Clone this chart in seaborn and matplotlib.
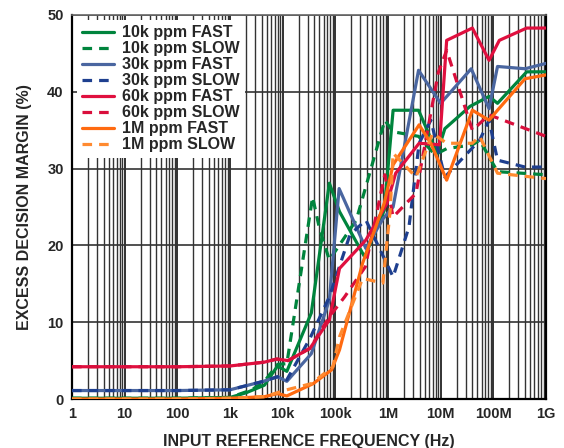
import numpy as np
import pandas as pd
import matplotlib
matplotlib.use("Agg")
import matplotlib.pyplot as plt
from matplotlib.ticker import LogLocator, FixedLocator, FixedFormatter, NullFormatter
import seaborn as sns

# ---------------- data ----------------
f_10k_fast = [1, 10, 100, 1e3, 2e3, 4.5e3, 8e3, 12e3, 35e3, 77e3, 120e3, 360e3, 850e3, 1.25e6, 3.8e6, 8.6e6, 12e6, 36e6, 83e6, 120e6, 430e6, 1e9]
v_10k_fast = [0.1, 0.1, 0.1, 0.2, 0.8, 1.8, 4.3, 3.6, 11.2, 28.1, 24.4, 18.5, 24.6, 37.6, 37.6, 32.0, 35.2, 38.1, 39.4, 38.5, 42.6, 42.6]

f_10k_slow = [1, 10, 100, 1e3, 2.6e3, 4.5e3, 8e3, 12e3, 37e3, 50e3, 77e3, 250e3, 870e3, 1.25e6, 3.8e6, 7.8e6, 13e6, 40e6, 55e6, 120e6, 1e9]
v_10k_slow = [0.1, 0.1, 0.1, 0.2, 1.2, 2.3, 4.5, 4.6, 26.3, 22.2, 18.1, 23.3, 36.3, 34.8, 34.2, 31.8, 32.6, 33.1, 33.7, 29.6, 29.2]

f_30k_fast = [1, 10, 100, 1e3, 4.3e3, 8e3, 12e3, 35e3, 77e3, 118e3, 380e3, 810e3, 1.25e6, 3.8e6, 10e6, 38e6, 83e6, 120e6, 400e6, 1e9]
v_30k_fast = [1.1, 1.1, 1.1, 1.2, 2.3, 2.9, 2.3, 5.9, 12.9, 27.4, 19.6, 23.5, 25.0, 42.8, 38.5, 43.0, 37.8, 43.3, 43.0, 43.7]

f_30k_slow = [1, 10, 100, 1e3, 4.3e3, 8e3, 12e3, 33e3, 77e3, 190e3, 380e3, 1.25e6, 2.5e6, 3.9e6, 6.5e6, 12e6, 55e6, 83e6, 120e6, 400e6, 1e9]
v_30k_slow = [1.1, 1.1, 1.1, 1.2, 2.3, 2.9, 2.5, 7.9, 13.3, 21.4, 23.3, 15.9, 22.4, 33.3, 36.3, 28.9, 33.7, 36.3, 31.1, 30.2, 30.2]

f_60k_fast = [1, 10, 100, 1e3, 4.5e3, 7.7e3, 12.7e3, 33e3, 77e3, 120e3, 380e3, 960e3, 1.4e6, 3.9e6, 9.5e6, 13e6, 40e6, 83e6, 130e6, 430e6, 1e9]
v_60k_fast = [4.2, 4.2, 4.2, 4.3, 4.8, 5.2, 5.0, 6.6, 10.3, 17.0, 20.7, 25.5, 29.4, 33.3, 33.1, 46.7, 48.3, 44.1, 46.7, 48.3, 48.3]

f_60k_slow = [1, 10, 100, 1e3, 4.5e3, 7.7e3, 12.7e3, 33e3, 77e3, 150e3, 370e3, 870e3, 1.25e6, 3.4e6, 9e6, 13e6, 40e6, 83e6, 1e9]
v_60k_slow = [4.2, 4.2, 4.2, 4.3, 4.8, 5.2, 5.0, 6.6, 10.7, 13.3, 17.2, 29.2, 23.7, 26.8, 42.5, 45.4, 35.0, 37.0, 34.2]

f_1m_fast = [1, 10, 100, 1e3, 4.5e3, 8e3, 12e3, 38e3, 85e3, 120e3, 330e3, 850e3, 1.25e6, 3.9e6, 6.5e6, 13e6, 40e6, 83e6, 120e6, 400e6, 1e9]
v_1m_fast = [0.0, 0.0, 0.0, 0.1, 0.3, 0.7, 0.4, 2.0, 3.8, 6.4, 17.7, 25.5, 30.5, 35.7, 33.3, 28.5, 37.6, 36.3, 37.6, 41.7, 42.2]

f_1m_slow = [1, 10, 100, 1e3, 4.5e3, 12e3, 35e3, 90e3, 120e3, 330e3, 800e3, 1.1e6, 1.25e6, 3.4e6, 7e6, 13e6, 40e6, 55e6, 120e6, 1e9]
v_1m_slow = [0.0, 0.0, 0.0, 0.1, 0.3, 1.2, 2.0, 4.2, 8.1, 15.7, 15.1, 24.6, 32.0, 28.9, 34.6, 33.3, 33.3, 34.2, 29.4, 28.7]

series_labels = ["10k ppm FAST", "10k ppm SLOW", "30k ppm FAST", "30k ppm SLOW",
                 "60k ppm FAST", "60k ppm SLOW", "1M ppm FAST", "1M ppm SLOW"]
series_data = [(f_10k_fast, v_10k_fast), (f_10k_slow, v_10k_slow),
               (f_30k_fast, v_30k_fast), (f_30k_slow, v_30k_slow),
               (f_60k_fast, v_60k_fast), (f_60k_slow, v_60k_slow),
               (f_1m_fast, v_1m_fast), (f_1m_slow, v_1m_slow)]
series_colors = ["#00843D", "#00843D", "#4A66A0", "#1E3F8F",
                 "#E0103F", "#D90F3C", "#FF6A10", "#FF8A30"]
series_dashed = [False, True, False, True, False, True, False, True]

x_tick_values = [1, 10, 100, 1e3, 1e4, 1e5, 1e6, 1e7, 1e8, 1e9]
x_tick_labels = ["1", "10", "100", "1k", "10k", "100k", "1M", "10M", "100M", "1G"]
y_tick_values = [0, 10, 20, 30, 40, 50]

frames = []
for lab, (f, v) in zip(series_labels, series_data):
    frames.append(pd.DataFrame({"freq": f, "margin": v, "series": lab}))
df = pd.concat(frames, ignore_index=True)

# ---------------- plot ----------------
sns.set_theme(style="white")
plt.rcParams["font.family"] = ["Liberation Sans", "DejaVu Sans"]
plt.rcParams["font.weight"] = "bold"

fig = plt.figure(figsize=(5.64, 4.48), dpi=100)
ax = fig.add_axes([72 / 564, 1 - 399 / 448, (546 - 72) / 564, (399 - 15) / 448])

for lab, col, dashed in zip(series_labels, series_colors, series_dashed):
    sub = df[df["series"] == lab]
    sns.lineplot(data=sub, x="freq", y="margin", ax=ax, color=col, lw=2.3,
                 linestyle=(0, (3.0, 2.2)) if dashed else "-",
                 label=lab, sort=False, estimator=None, zorder=3)

ax.set_xscale("log")
ax.set_xlim(1, 1e9)
ax.set_ylim(0, 50)
ax.xaxis.set_major_locator(FixedLocator(x_tick_values))
ax.xaxis.set_major_formatter(FixedFormatter(x_tick_labels))
ax.xaxis.set_minor_locator(LogLocator(base=10, subs=np.arange(2, 10), numticks=20))
ax.xaxis.set_minor_formatter(NullFormatter())
ax.set_yticks(y_tick_values)

ax.grid(True, which="major", axis="x", color="#222222", lw=1.3, zorder=1)
ax.grid(True, which="minor", axis="x", color="#333333", lw=1.0, zorder=1)
ax.grid(True, which="major", axis="y", color="#333333", lw=1.2, zorder=1)
ax.set_axisbelow(True)

ax.tick_params(axis="both", which="both", direction="in", length=0, labelsize=10.5, pad=6)
for lbl in ax.get_xticklabels() + ax.get_yticklabels():
    lbl.set_fontweight("bold")

for side in ["left", "bottom", "right"]:
    ax.spines[side].set_color("black")
    ax.spines[side].set_linewidth(1.6)
ax.spines["top"].set_color("#666666")
ax.spines["top"].set_linewidth(1.2)

ax.set_xlabel("INPUT REFERENCE FREQUENCY (Hz)", fontsize=11.5, fontweight="bold", labelpad=9)
ax.set_ylabel("EXCESS DECISION MARGIN (%)", fontsize=11.5, fontweight="bold", labelpad=11)

leg = ax.legend(loc="upper left", bbox_to_anchor=(0.0, 1.0), frameon=True,
                framealpha=1, facecolor="white", edgecolor="none", fancybox=False,
                prop={"weight": "bold", "size": 11.5}, handlelength=2.0,
                handletextpad=0.45, labelspacing=0.06, borderaxespad=0.3,
                borderpad=0.35)
leg.set_zorder(5)

fig.savefig("out.png", dpi=100)
